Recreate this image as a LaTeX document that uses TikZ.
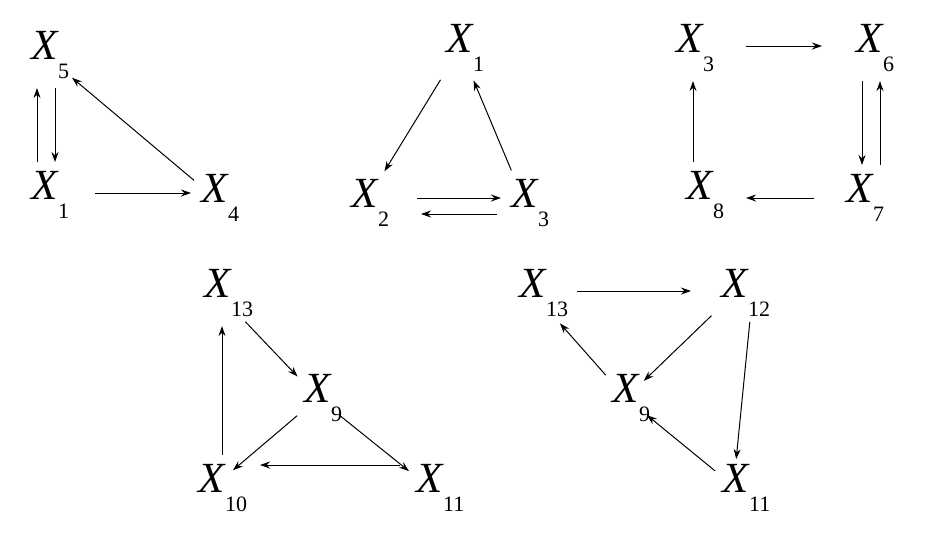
\documentclass[tikz,border=0pt]{standalone}
\usepackage{fontspec}
\setmainfont{Liberation Serif}
\usetikzlibrary{arrows.meta}
\tikzset{
 v/.style={inner sep=3pt,font=\fontsize{43}{43}\selectfont\itshape},
 arr/.style={-{Stealth[length=10pt,width=7pt]},line width=1pt,shorten <=6pt,shorten >=6pt}
}
\newcommand{\xv}[1]{X\rlap{\raisebox{-0.45em}{\upshape\fontsize{22}{22}\selectfont #1}}}
\begin{document}
\begin{tikzpicture}[x=1pt,y=-1pt]
\useasboundingbox (0,0) rectangle (928,550);
% group 1
\node[v] (a5) at (45,55) {\xv{5}};
\node[v] (a1) at (45,195) {\xv{1}};
\node[v] (a4) at (215,198) {\xv{4}};
\draw[arr] ([xshift=-8]a1.north) -- ([xshift=-8]a5.south);
\draw[arr] ([xshift=10]a5.south) -- ([xshift=10]a1.south|-a1.north);
\draw[arr,shorten <=50pt,shorten >=24pt] ([yshift=2]a1.center) -- ([yshift=2]a1.center-|a4.center);
\draw[arr,shorten <=6pt,shorten >=14pt] (a4) -- (a5);
% group 2
\node[v] (b1) at (460,48) {\xv{1}};
\node[v] (b2) at (365,203) {\xv{2}};
\node[v] (b3) at (525,203) {\xv{3}};
\draw[arr] (b1) -- (b2);
\draw[arr] (b3) -- (b1);
\draw[arr,shorten <=52pt,shorten >=24pt] ([yshift=5]b2.center) -- ([yshift=5]b3.center);
\draw[arr,shorten <=28pt,shorten >=56pt] ([yshift=-11]b3.center) -- ([yshift=-11]b2.center);
% group 3
\node[v] (c3) at (690,48) {\xv{3}};
\node[v] (c6) at (870,48) {\xv{6}};
\node[v] (c8) at (700,195) {\xv{8}};
\node[v] (c7) at (860,198) {\xv{7}};
\draw[arr,shorten <=56pt,shorten >=48pt] ([yshift=2]c3.center) -- ([yshift=2]c6.center);
\draw[arr] ([xshift=-8]c6.south) -- ([xshift=-8]c6.south|-c7.north);
\draw[arr] ([xshift=10]c6.south|-c7.north) -- ([xshift=10]c6.south);
\draw[arr,shorten <=46pt,shorten >=46pt] (c7.center) -- (c7.center-|c8.center);
\draw[arr] ([xshift=-7]c8.north) -- ([xshift=-7]c8.north|-c3.south);
% group 4
\node[v] (d13) at (218,293) {\xv{13}};
\node[v] (d9) at (318,398) {\xv{9}};
\node[v] (d10) at (212,488) {\xv{10}};
\node[v] (d11) at (430,488) {\xv{11}};
\draw[arr,shorten <=16pt] (d13) -- (d9);
\draw[arr] (d9) -- (d10);
\draw[arr] (d9) -- (d11);
\draw[arr,shorten <=30pt,shorten >=48pt] ([yshift=23]d11.center) -- ([yshift=23]d10.center);
\draw[arr] ([xshift=10]d10.north) -- ([xshift=10]d10.north|-d13.south);
% group 5
\node[v] (e13) at (533,293) {\xv{13}};
\node[v] (e12) at (735,293) {\xv{12}};
\node[v] (e9) at (626,398) {\xv{9}};
\node[v] (e11) at (736,488) {\xv{11}};
\draw[arr,shorten <=44pt,shorten >=44pt] ([yshift=2]e13.center) -- ([yshift=2]e12.center);
\draw[arr,shorten <=10pt,shorten >=2pt] (e12) -- (e9);
\draw[arr,shorten >=16pt] (e9) -- (e13);
\draw[arr,shorten <=2pt,shorten >=2pt] ([xshift=15]e12.south) -- (e11.north);
\draw[arr] (e11) -- (e9);
\end{tikzpicture}
\end{document}
